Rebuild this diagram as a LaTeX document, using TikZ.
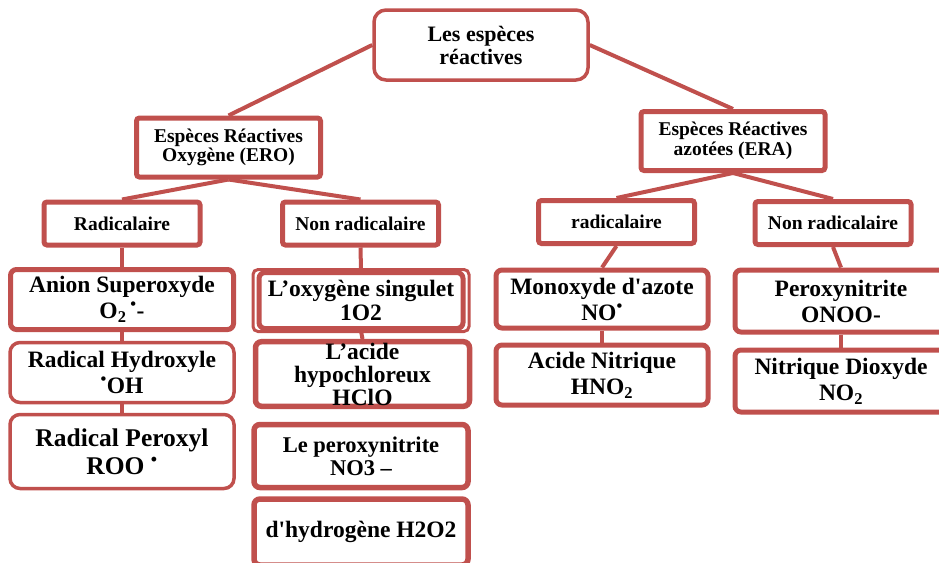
\documentclass[tikz,border=0pt]{standalone}
\usepackage{fontspec}
\setmainfont{Liberation Serif}
\usepackage{xcolor}
\usepackage{tikz}
\definecolor{brick}{HTML}{C0504D}

\begin{document}
\begin{tikzpicture}[
  x=1pt, y=-1pt,
  root/.style={draw=brick, line width=3.5pt, rounded corners=12pt, fill=white,
               minimum width=214pt, minimum height=70pt, align=center,
               font=\fontsize{22}{23}\selectfont\bfseries},
  fam/.style={draw=brick, line width=5pt, rounded corners=3pt, fill=white,
              minimum width=184pt, minimum height=59pt, align=center,
              font=\fontsize{19.5}{19.5}\selectfont\bfseries},
  cat/.style={draw=brick, line width=5pt, rounded corners=3pt, fill=white,
              minimum width=156pt, minimum height=43pt, align=center,
              font=\fontsize{19.5}{20}\selectfont\bfseries},
  sp/.style={draw=brick, line width=5pt, rounded corners=6pt, fill=white,
             minimum width=212pt, minimum height=60pt, align=center,
             inner sep=1pt, font=\fontsize{23.5}{26}\selectfont\bfseries},
  spT/.style={sp, line width=3.5pt, rounded corners=10pt,
              minimum width=224pt},
  link/.style={draw=brick, line width=4pt}
]
\useasboundingbox (0,0) rectangle (939,562);
\clip (0,0) rectangle (939,562);

%% ---- top levels ----
\node[root] (root) at (481,45) {Les espèces\\réactives};
\node[fam] (ero) at (228.5,147.5) {Espèces Réactives\\Oxygène (ERO)};
\node[fam] (era) at (733,141) {Espèces Réactives\\azotées (ERA)};

\node[cat] (radO) at (122,223.5) {Radicalaire};
\node[cat] (nonradO) at (360.5,223.5) {Non radicalaire};
\node[cat] (radN) at (616.5,222) {radicalaire};
\node[cat] (nonradN) at (833,223) {Non radicalaire};

%% ---- ERO, radicalaire ----
\node[sp, minimum width=223pt] (superox) at (122,299.5) {
  Anion Superoxyde\\
  O\textsubscript{2}\,\textsuperscript{\textbullet}-
};
\node[spT] (hydrox) at (122,372.5) {
  Radical Hydroxyle\\
  \textsuperscript{\textbullet}OH
};
\node[spT, minimum height=74pt, font=\fontsize{25.5}{28}\selectfont\bfseries]
  (peroxyl) at (122,451.5) {
  Radical Peroxyl\\
  ROO \textsuperscript{\textbullet}
};

%% ---- ERO, non radicalaire ----
\node[sp, minimum width=204pt, minimum height=56pt,
      font=\fontsize{23.5}{24}\selectfont\bfseries] (singlet) at (361,300.5) {
  L’oxygène singulet\\
  1O2
};
\draw[brick, line width=3pt, rounded corners=5pt]
  ([shift={(-3.5,-0.5)}]singlet.north west) rectangle
  ([shift={(3.5,0.5)}]singlet.south east);
\node[sp, line width=5.5pt, minimum width=214pt, minimum height=63pt,
      font=\fontsize{23.5}{23}\selectfont\bfseries] (hclo) at (362.5,374) {
  L’acide\\
  hypochloreux\\
  HClO
};
\node[sp, line width=5.5pt, minimum width=214pt, minimum height=63pt,
      font=\fontsize{22.5}{23}\selectfont\bfseries] (nitro) at (361,456) {
  Le peroxynitrite\\
  NO3 –
};
\node[sp, line width=5.5pt, minimum width=214pt, minimum height=66pt]
  (perox) at (361,532) {d\textquotesingle hydrogène H2O2};

%% ---- ERA ----
\node[sp, minimum height=58pt] (nomono) at (602,299) {
  Monoxyde d\textquotesingle azote\\
  NO\textsuperscript{\textbullet}
};
\node[sp] (hno) at (602,375) {
  Acide Nitrique\\
  HNO\textsubscript{2}
};
\node[sp, minimum height=62pt] (onoo) at (841,301) {
  Peroxynitrite\\
  ONOO-
};
\node[sp, minimum height=62pt] (dioxy) at (841,381) {
  Nitrique Dioxyde\\
  NO\textsubscript{2}
};

%% ---- links ----
\draw[link] (root.west) -- (ero.north);
\draw[link] (root.east) -- (era.north);

\draw[link] (ero.south) -- (radO.north);
\draw[link] (ero.south) -- (nonradO.north);
\draw[link] (era.south) -- (radN.north);
\draw[link] (era.south) -- (nonradN.north);

\draw[link] (radO.south) -- (superox.north);
\draw[link] (superox.south) -- (hydrox.north);
\draw[link] (hydrox.south) -- (peroxyl.north);

\draw[link] (nonradO.south) -- (singlet.north);
\draw[link] (singlet.south) -- (hclo.north);

\draw[link] (radN.south) -- (nomono.north);
\draw[link] (nomono.south) -- (hno.north);
\draw[link] (nonradN.south) -- (onoo.north);
\draw[link] (onoo.south) -- (dioxy.north);

\end{tikzpicture}
\end{document}
